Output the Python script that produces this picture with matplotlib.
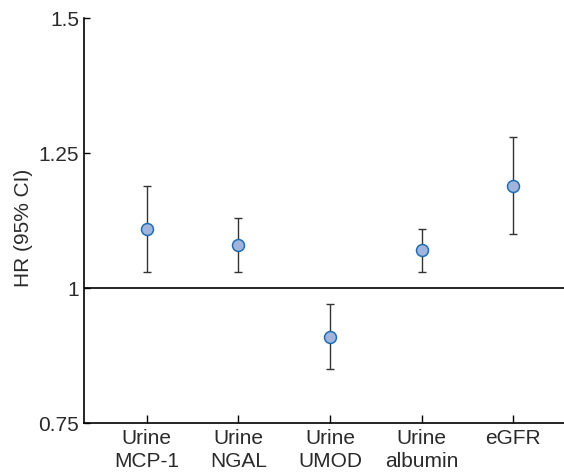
import matplotlib
matplotlib.use("Agg")
import matplotlib.pyplot as plt
import numpy as np

categories = ["Urine\nMCP-1", "Urine\nNGAL", "Urine\nUMOD", "Urine\nalbumin", "eGFR"]
hr = [1.11, 1.08, 0.91, 1.07, 1.19]
ci_low = [1.03, 1.03, 0.85, 1.03, 1.10]
ci_high = [1.19, 1.13, 0.97, 1.11, 1.28]
yticks = [0.75, 1.0, 1.25, 1.5]
ytick_labels = ["0.75", "1", "1.25", "1.5"]

plt.rcParams['font.family'] = ['Liberation Sans', 'DejaVu Sans']

fig = plt.figure(figsize=(5.64, 4.76), dpi=100)
ax = fig.add_axes([0.1498, 0.1107, 0.8502, 0.8509])

x = np.arange(len(categories))
hr_a = np.array(hr)
yerr = np.vstack([hr_a - np.array(ci_low), np.array(ci_high) - hr_a])

ax.axhline(1.0, color='black', lw=1.2, zorder=1)
ax.errorbar(x, hr_a, yerr=yerr, fmt='none', ecolor='#333333', elinewidth=1.0,
            capsize=3, capthick=1.0, zorder=2)
ax.plot(x, hr_a, 'o', ms=8.6, mfc='#a0b4dc', mec='#1f6db5', mew=1.1, zorder=3)

ax.set_xlim(-0.679, 4.553)
ax.set_ylim(0.75, 1.5)
ax.set_xticks(x)
ax.set_xticklabels(categories, fontsize=15, linespacing=1.3)
ax.set_yticks(yticks)
ax.set_yticklabels(ytick_labels, fontsize=15)

ax.spines['top'].set_visible(False)
ax.spines['right'].set_visible(False)
for s in ['left', 'bottom']:
    ax.spines[s].set_linewidth(1.2)

ax.tick_params(axis='x', direction='in', length=6, width=1.0, pad=4, colors='black')
ax.tick_params(axis='y', direction='in', length=4.2, width=1.0, pad=4, colors='black')
for lbl in ax.get_xticklabels() + ax.get_yticklabels():
    lbl.set_color('#2a2a2a')

ax.set_ylabel("HR (95% CI)", fontsize=15, color='#2a2a2a')
ax.yaxis.set_label_coords(-0.107, 0.482)

fig.savefig("out.png", dpi=100)
